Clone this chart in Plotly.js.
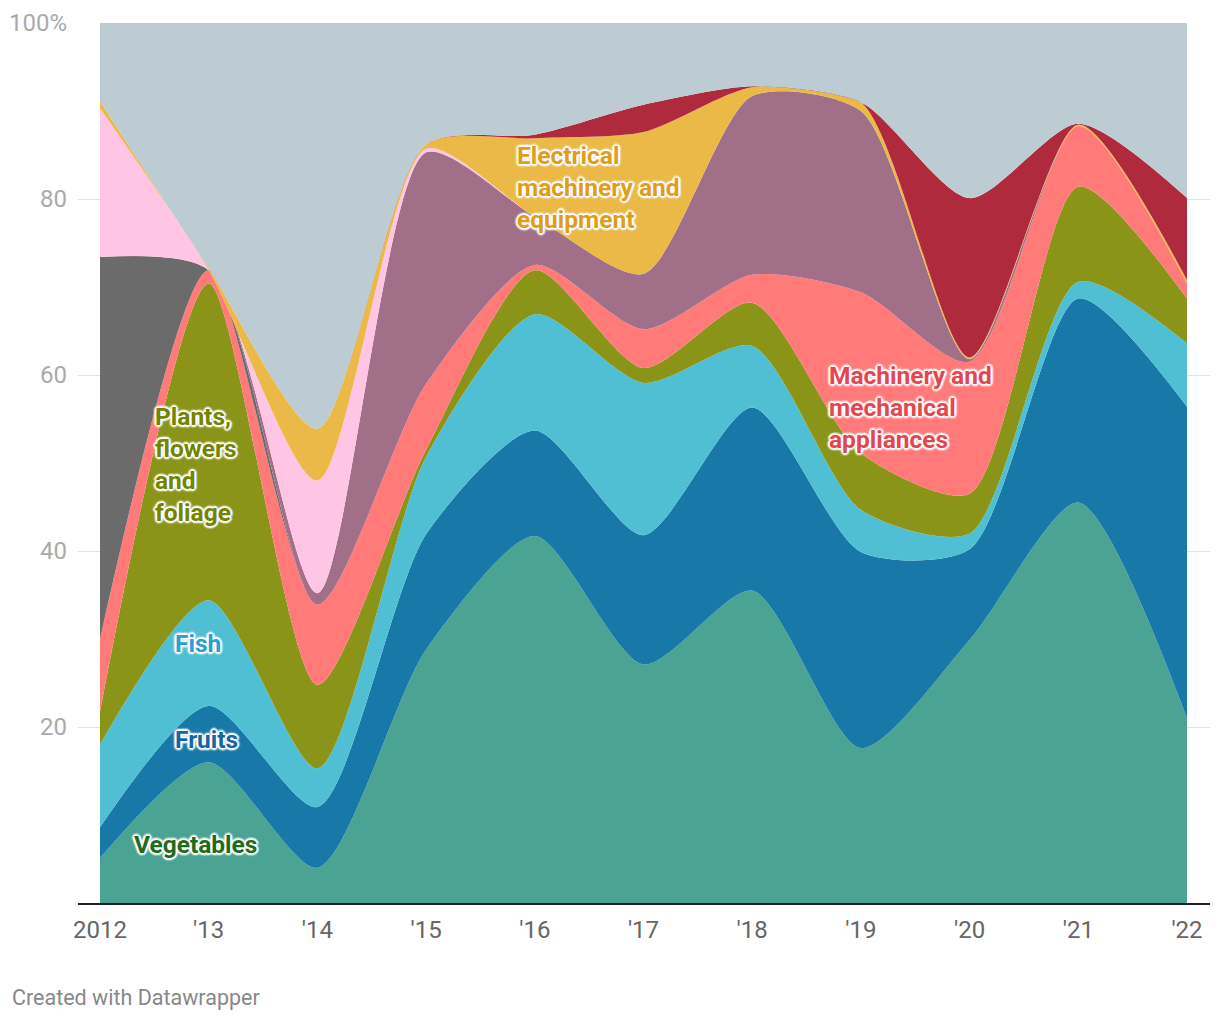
<!DOCTYPE html>
<html>
<head>
<meta charset="utf-8">
<script src="https://cdn.plot.ly/plotly-3.0.1.min.js"></script>
<style>
  html, body { margin: 0; padding: 0; background: #fff; }
  #chart { width: 1220px; height: 1020px; }
</style>
</head>
<body>
<div id="chart"></div>
<script>
// ---- data (share of total, %) ----
const years = [2012, 2013, 2014, 2015, 2016, 2017, 2018, 2019, 2020, 2021, 2022];
const yearLabels = ["2012", "'13", "'14", "'15", "'16", "'17", "'18", "'19", "'20", "'21", "'22"];

const vegetables  = [5.1, 16.0, 4.0, 28.8, 41.7, 27.1, 35.5, 17.6, 29.9, 45.5, 21.0];
const fruits      = [3.5, 6.4, 6.9, 13.1, 12.0, 14.7, 20.8, 22.3, 10.3, 23.2, 35.4];
const fish        = [9.4, 12.0, 4.4, 8.8, 13.2, 17.3, 7.0, 4.8, 1.8, 1.9, 7.2];
const plants      = [3.8, 36.0, 9.5, 0.8, 5.0, 1.7, 4.9, 6.4, 4.5, 10.8, 5.1];
const machinery   = [8.2, 1.5, 9.1, 7.5, 0.6, 4.4, 3.2, 18.3, 15.0, 6.9, 1.7];
const darkGrey    = [43.4, 0, 0, 0, 0, 0, 0, 0, 0, 0, 0];
const mauve       = [0, 0, 1.3, 26.3, 5.5, 6.3, 20.3, 20.6, 0.3, 0, 0];
const pink        = [16.9, 0, 12.8, 0.4, 0, 0, 0, 0, 0, 0, 0];
const electrical  = [0.8, 0.2, 5.9, 0.5, 8.9, 16.1, 1.0, 1.0, 0.2, 0.15, 0.4];
const darkRed     = [0, 0, 0, 0, 0.4, 3.1, 0.1, 0, 18.1, 0.1, 9.3];
const other       = [8.9, 27.9, 46.1, 13.8, 12.7, 9.3, 7.2, 9.0, 19.9, 11.45, 19.9];

const seriesNames = ["Vegetables", "Fruits", "Fish", "Plants, flowers and foliage",
  "Machinery and mechanical appliances", "Other A", "Other B", "Other C",
  "Electrical machinery and equipment", "Other D", "Rest"];
const seriesValues = [vegetables, fruits, fish, plants, machinery, darkGrey, mauve, pink, electrical, darkRed, other];
const seriesColors = ["#4aa393", "#1879a9", "#50bfd3", "#8a9418", "#ff7a79", "#6b6b6b",
  "#a26f89", "#fec5e5", "#ebb947", "#ae2a3c", "#bdcbd2"];

const traces = seriesValues.map((vals, i) => ({
  type: "scatter",
  mode: "lines",
  name: seriesNames[i],
  x: years,
  y: vals,
  stackgroup: "one",
  line: { width: 0, shape: "spline", smoothing: 0.72, color: seriesColors[i] },
  fillcolor: seriesColors[i],
  hoverinfo: "skip",
  showlegend: false
}));

// pixel mapping helpers for the plot frame
const plotLeft = 78, plotRight = 1210, plotTop = 23, plotBottom = 903;
const x2012 = 100, x2022 = 1187;
const pxPerYear = (x2022 - x2012) / 10;
const xMin = 2012 - (x2012 - plotLeft) / pxPerYear;
const xMax = 2022 + (plotRight - x2022) / pxPerYear;

const halo = "0 0 3px #fff, 0 0 3px #fff, 1px 1px 2px #fff, -1px -1px 2px #fff, 1px -1px 2px #fff, -1px 1px 2px #fff, 2px 0 2px #fff, -2px 0 2px #fff, 0 2px 2px #fff, 0 -2px 2px #fff";
function label(text, x, y, color) {
  return {
    text: text, x: x, y: y, xref: "x", yref: "y",
    xanchor: "left", yanchor: "middle", align: "left", showarrow: false,
    font: { family: "Roboto, sans-serif", size: 24.5, color: color, weight: 700, shadow: halo }
  };
}

const annotations = [
  label("Plants,<br>flowers<br>and<br>foliage", 2012.49, 49.8, "#748400"),
  label("Fish", 2012.67, 29.5, "#2a9fcf"),
  label("Fruits", 2012.67, 18.6, "#17679f"),
  label("Vegetables", 2012.294, 6.6, "#1f6b22"),
  label("Electrical<br>machinery and<br>equipment", 2015.82, 81.3, "#e09c1a"),
  label("Machinery and<br>mechanical<br>appliances", 2018.69, 56.3, "#e4464f"),
  {
    text: "Created with Datawrapper", xref: "paper", yref: "paper",
    x: (10 - plotLeft) / (plotRight - plotLeft), y: (plotBottom - 997) / (plotBottom - plotTop),
    xanchor: "left", yanchor: "middle", showarrow: false,
    font: { family: "Roboto, sans-serif", size: 21.5, color: "#888" }
  }
];

const layout = {
  width: 1220, height: 1020,
  margin: { l: plotLeft, r: 1220 - plotRight, t: plotTop, b: 1020 - plotBottom },
  paper_bgcolor: "#fff", plot_bgcolor: "#fff",
  showlegend: false,
  xaxis: {
    range: [xMin, xMax], tickvals: years, ticktext: yearLabels,
    showgrid: false, zeroline: false, showline: true, linecolor: "#222", linewidth: 2,
    ticks: "", ticklabelstandoff: 4,
    tickfont: { family: "Roboto, sans-serif", size: 24, color: "#666" },
    fixedrange: true
  },
  yaxis: {
    range: [0, 100], tickvals: [20, 40, 60, 80, 100], ticktext: ["20", "40", "60", "80", "100%"],
    showgrid: true, gridcolor: "#e3e3e3", gridwidth: 1, zeroline: false, showline: false,
    ticks: "", ticklabelstandoff: 10,
    tickfont: { family: "Roboto, sans-serif", size: 24, color: "#aaa" },
    fixedrange: true
  },
  annotations: annotations
};

Plotly.newPlot("chart", traces, layout, { staticPlot: true, displayModeBar: false });
</script>
</body>
</html>
